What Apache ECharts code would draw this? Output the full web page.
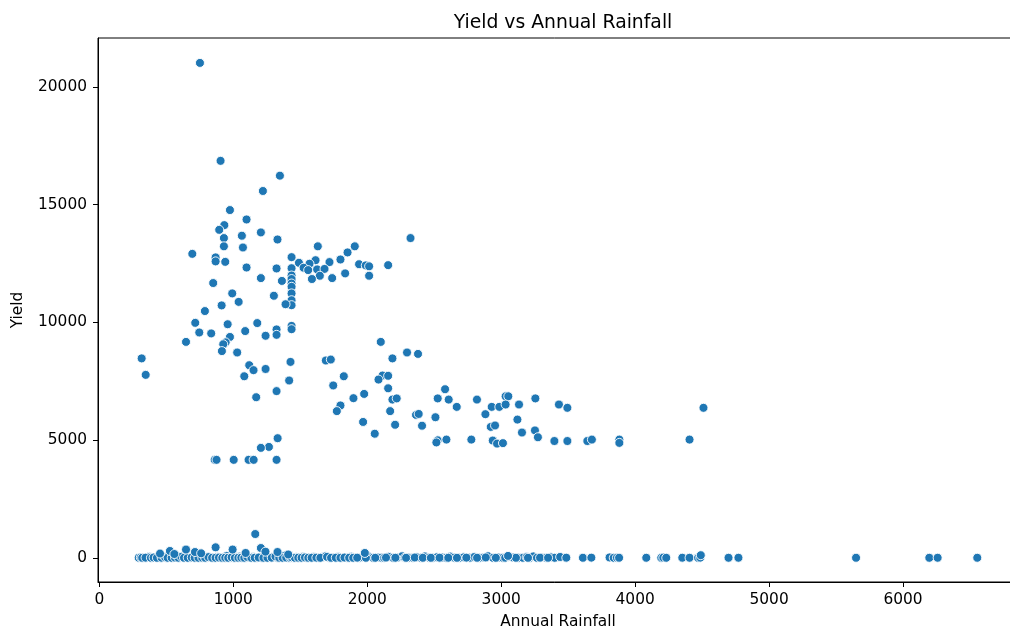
<!DOCTYPE html>
<html>
<head>
<meta charset="utf-8">
<title>Yield vs Annual Rainfall</title>
<script src="https://cdn.jsdelivr.net/npm/echarts@6/dist/echarts.min.js"></script>
<style>
  html, body { margin: 0; padding: 0; background: #fff; }
  #chart { width: 1010px; height: 632px; }
</style>
</head>
<body>
<div id="chart"></div>
<script>
// high-yield cluster
const highRain = [751, 905, 1348, 1221, 975, 1099, 933, 895, 1206, 930, 1064, 1330, 930, 1072, 694,
  1631, 2323, 1907, 1853, 1800, 1718, 1614, 1569, 1490, 1435, 1435, 1525, 1559, 1626, 1681,
  1646, 1587, 1738, 1835, 1939, 1989, 2014, 2014, 2156, 868, 868, 940, 1099, 1323, 1435,
  1435, 1435, 1435, 1435, 1435, 1435, 1435, 1206, 1363, 850, 992, 1040, 1303, 1390, 913,
  788, 716, 958, 1179, 746, 835, 1089, 1241, 1323, 1323, 1435, 975, 943, 925, 647,
  915, 1029, 316, 346, 1119, 1151, 1241, 1427, 1082, 1417, 1323, 1171, 1691, 1728, 1825,
  1746, 1897, 1977, 1800, 1773, 2101, 2188, 2297, 2379, 2114, 2156, 2084, 2156, 2188, 2220,
  2171, 1969, 2056, 2208, 2364, 2384, 2409, 1331, 1266, 1206, 861, 875, 1003, 1114, 1152,
  1323, 2581, 2526, 2608, 2668, 2819, 3033, 3053, 2929, 2986, 3033, 3133, 3255, 3431, 3494,
  4510, 2882, 2509, 3121, 2922, 2954, 3155, 3252, 3274, 2526, 2516, 2591, 2777, 2937, 2969,
  3013, 3397, 3494, 3643, 3677, 3882, 3882, 4406];
const highYield = [21020, 16860, 16230, 15580, 14770, 14370, 14130, 13930, 13820, 13580, 13680, 13520, 13230, 13180, 12910,
  13230, 13580, 13230, 12970, 12670, 12560, 12640, 12490, 12530, 12770, 12300, 12320, 12220, 12250, 12270,
  11980, 11840, 11880, 12080, 12470, 12420, 12380, 11980, 12430, 12760, 12590, 12570, 12330, 12290, 11990,
  11840, 11650, 11510, 11230, 10940, 10730, 9850, 11880, 11760, 11670, 11230, 10870, 11130, 10770, 10720,
  10480, 9980, 9920, 9970, 9570, 9530, 9630, 9430, 9700, 9470, 9710, 9380, 9150, 9070, 9170,
  8780, 8720, 8470, 7770, 8180, 7970, 8020, 8320, 7710, 7530, 7080, 6820, 8380, 8420, 7710,
  7320, 6780, 6960, 6470, 6230, 9170, 8470, 8720, 8660, 7740, 7730, 7570, 7200, 6720, 6770,
  6230, 5770, 5270, 5650, 6070, 6110, 5610, 5080, 4710, 4670, 4160, 4160, 4160, 4160, 4160,
  4160, 7160, 6770, 6720, 6410, 6720, 6860, 6860, 6410, 6410, 6510, 6510, 6770, 6510, 6370,
  6370, 6100, 5970, 5870, 5560, 5620, 5320, 5410, 5120, 4990, 4900, 5020, 5020, 4980, 4850,
  4870, 4960, 4960, 4960, 5020, 5020, 4880, 5020];

// near-zero yields along the bottom
const lowRain = [294, 310, 330, 354, 372, 395, 416, 440, 455, 477, 500, 520, 552, 575, 602, 620, 645, 677, 700, 725,
  753, 780, 800, 830, 855, 880, 906, 930, 950, 975, 1000, 1025, 1050, 1070, 1092, 1120, 1149, 1175, 1211, 1240,
  1273, 1300, 1330, 1355, 1380, 1410, 1447, 1470, 1497, 1520, 1547, 1570, 1600, 1639, 1665, 1690, 1716, 1750, 1783, 1810,
  1850, 1880, 1910, 1940, 1970, 2000, 2044, 2080, 2105, 2126, 2160, 2193, 2230, 2260, 2280, 2310, 2342, 2370, 2399, 2430,
  2460, 2491, 2520, 2560, 2591, 2620, 2650, 2690, 2720, 2765, 2800, 2839, 2870, 2900, 2939, 2980, 3013, 3050, 3090, 3130,
  3162, 3190, 3217, 3240, 3267, 3300, 3337, 3370, 3399, 3440, 3486, 3610, 3673, 3809, 3840, 3864, 3880, 4083, 4195, 4210,
  4232, 4352, 4406, 4470, 4486, 4490, 4697, 4771, 5649, 6196, 6258, 6554,
  320, 345, 385, 405, 430, 465, 490, 510, 540, 565, 590, 612, 632, 660, 690, 712, 740, 768, 790, 815,
  842, 868, 893, 918, 940, 962, 988, 1012, 1038, 1060, 1082, 1105, 1135, 1160, 1190, 1225, 1255, 1287, 1315, 1343,
  1368, 1395, 1425, 1435, 1460, 1485, 1510, 1535, 1560, 1585, 1620, 1650, 1700, 1730, 1765, 1800, 1830, 1865, 1895, 1925,
  1990, 2060, 2140, 2210, 2290, 2355, 2415, 2475, 2540, 2605, 2670, 2740, 2820, 2885, 2960, 3030, 3110, 3200, 3290, 3350,
  1164, 527, 647, 868, 995, 1206, 1330, 714, 453, 1982, 3051, 1092, 560, 760, 1240, 1410];
const lowYield = [2, 14, 0, 6, 40, 1, 9, 70, 3, 18, 0, 30, 5, 90, 2, 12, 60, 0, 20, 8,
  3, 55, 1, 15, 4, 35, 0, 10, 80, 3, 1, 20, 50, 6, 0, 12, 30, 3, 1, 75,
  7, 40, 2, 14, 85, 4, 0, 25, 6, 45, 1, 10, 35, 2, 18, 70, 0, 8, 30, 3,
  1, 45, 9, 0, 20, 90, 2, 13, 6, 1, 40, 4, 16, 65, 0, 7, 2, 28, 0, 60,
  5, 1, 22, 10, 2, 50, 6, 0, 18, 3, 35, 1, 12, 70, 0, 9, 4, 40, 14, 2,
  1, 30, 3, 60, 1, 10, 2, 20, 0, 35, 4, 1, 6, 15, 0, 5, 2, 1, 2, 8,
  0, 3, 1, 0, 6, 110, 1, 2, 1, 0, 2, 1,
  0, 5, 1, 12, 0, 3, 25, 1, 0, 8, 2, 45, 1, 0, 15, 3, 0, 6, 1, 30,
  2, 0, 10, 1, 4, 0, 20, 2, 0, 7, 1, 35, 0, 3, 12, 1, 0, 5, 60, 2,
  0, 9, 1, 25, 0, 4, 1, 15, 0, 2, 6, 0, 40, 1, 3, 0, 10, 2, 0, 5,
  1, 0, 8, 2, 0, 12, 1, 0, 4, 2, 0, 6, 1, 15, 0, 3, 1, 0, 5, 2,
  1010, 290, 350, 445, 350, 415, 245, 245, 180, 205, 80, 205, 160, 190, 260, 140];

const xTicks = [0, 1000, 2000, 3000, 4000, 5000, 6000];
const yTicks = [0, 5000, 10000, 15000, 20000];

const pts = [];
highRain.forEach((r, i) => pts.push([r, highYield[i]]));
lowRain.forEach((r, i) => pts.push([r, lowYield[i]]));

const chart = echarts.init(document.getElementById('chart'), null, { renderer: 'canvas' });
const font = 'DejaVu Sans';
const tickSize = 15.4;
const option = {
  animation: false,
  backgroundColor: '#fff',
  textStyle: { fontFamily: font },
  title: {
    text: 'Yield vs Annual Rainfall',
    left: 558,
    top: 9,
    textAlign: 'center',
    textStyle: { fontFamily: font, fontSize: 18.8, fontWeight: 'normal', color: '#000' }
  },
  grid: {
    left: 98,
    top: 38,
    width: 920,
    height: 544,
    outerBoundsMode: 'none',
    containLabel: false,
    show: true,
    borderColor: '#000',
    borderWidth: 1,
    backgroundColor: 'transparent'
  },
  xAxis: {
    type: 'value',
    min: -10,
    max: 6858,
    name: 'Annual Rainfall',
    nameLocation: 'middle',
    nameGap: 32,
    nameTextStyle: { fontFamily: font, fontSize: tickSize, color: '#000' },
    axisLine: { show: true, onZero: false, lineStyle: { color: '#000', width: 1 } },
    splitLine: { show: false },
    axisTick: { show: true, length: 5, lineStyle: { color: '#000' }, customValues: xTicks },
    axisLabel: { fontFamily: font, fontSize: tickSize, color: '#000', margin: 10, customValues: xTicks,
      formatter: (v) => String(v) }
  },
  yAxis: {
    type: 'value',
    min: -1028,
    max: 22078,
    name: 'Yield',
    nameLocation: 'middle',
    nameGap: 73,
    nameRotate: 90,
    nameTextStyle: { fontFamily: font, fontSize: tickSize, color: '#000' },
    axisLine: { show: true, onZero: false, lineStyle: { color: '#000', width: 1 } },
    splitLine: { show: false },
    axisTick: { show: true, length: 5, lineStyle: { color: '#000' }, customValues: yTicks },
    axisLabel: { fontFamily: font, fontSize: tickSize, color: '#000', margin: 11, customValues: yTicks,
      formatter: (v) => String(v) }
  },
  series: [{
    type: 'scatter',
    data: pts,
    symbolSize: 9,
    itemStyle: { color: '#1f77b4', borderColor: '#fff', borderWidth: 0.9, opacity: 1 }
  }]
};
chart.setOption(option);
</script>
</body>
</html>
